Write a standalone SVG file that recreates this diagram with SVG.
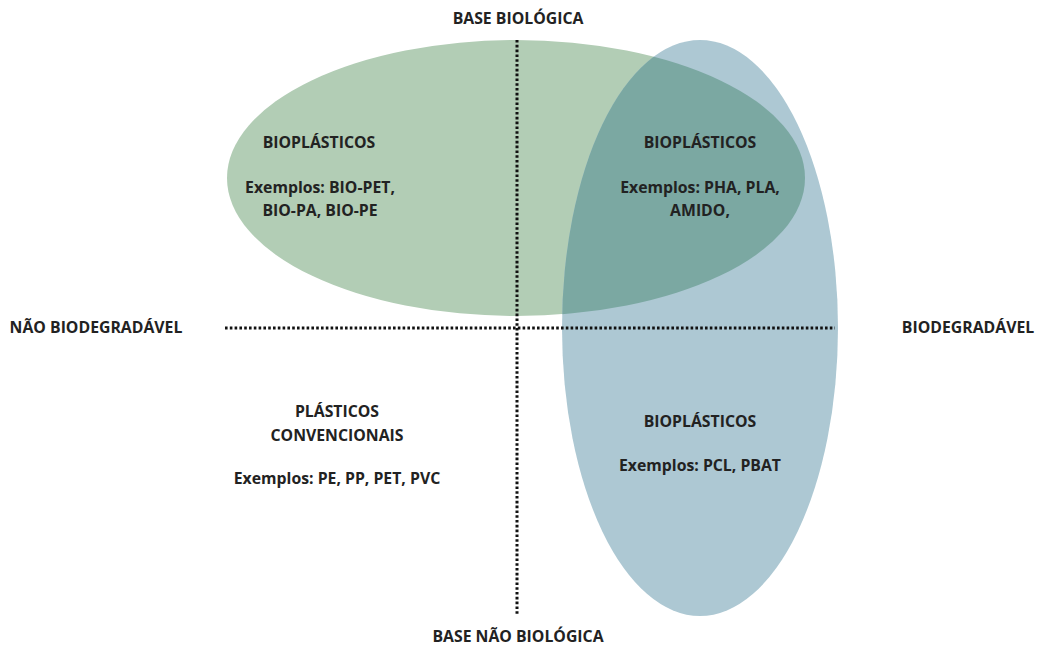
<svg xmlns="http://www.w3.org/2000/svg" width="1041" height="648" viewBox="0 0 1041 648">
<style>
text{font-family:"Open Sans","Noto Sans","DejaVu Sans",sans-serif;font-weight:bold;font-size:15.8px;fill:#222;text-anchor:middle}
.ax{stroke:#111;stroke-width:3;stroke-dasharray:2.6 2.2;fill:none}
</style>
<defs>
<clipPath id="blueClip"><ellipse cx="700" cy="328" rx="138" ry="288"/></clipPath>
</defs>
<g id="bio-nao-biodegradavel">
<ellipse cx="516" cy="178" rx="289" ry="138" fill="#b2cdb5"/>
</g>
<g id="biodegradavel">
<ellipse cx="700" cy="328" rx="138" ry="288" fill="#adc8d3"/>
</g>
<g id="overlap">
<ellipse cx="516" cy="178" rx="289" ry="138" fill="#7ba8a2" clip-path="url(#blueClip)"/>
</g>
<g id="axes">
<line class="ax" x1="225" y1="328" x2="835" y2="328"/>
<line class="ax" x1="517" y1="40" x2="517" y2="616"/>
</g>
<g id="labels">
<text x="518" y="24">BASE BIOLÓGICA</text>
<text x="518" y="642">BASE NÃO BIOLÓGICA</text>
<text x="96" y="333">NÃO BIODEGRADÁVEL</text>
<text x="968" y="333">BIODEGRADÁVEL</text>
</g>
<g id="node-bioplasticos-tl">
<text x="319" y="148">BIOPLÁSTICOS</text>
<text x="320" y="193">Exemplos: BIO-PET,</text>
<text x="320" y="216">BIO-PA, BIO-PE</text>
</g>
<g id="node-bioplasticos-tr">
<text x="700" y="148">BIOPLÁSTICOS</text>
<text x="700" y="193">Exemplos: PHA, PLA,</text>
<text x="700" y="216">AMIDO,</text>
</g>
<g id="node-convencionais">
<text x="337" y="417">PLÁSTICOS</text>
<text x="337" y="441">CONVENCIONAIS</text>
<text x="337" y="484">Exemplos: PE, PP, PET, PVC</text>
</g>
<g id="node-bioplasticos-br">
<text x="700" y="427">BIOPLÁSTICOS</text>
<text x="700" y="471">Exemplos: PCL, PBAT</text>
</g>
</svg>
